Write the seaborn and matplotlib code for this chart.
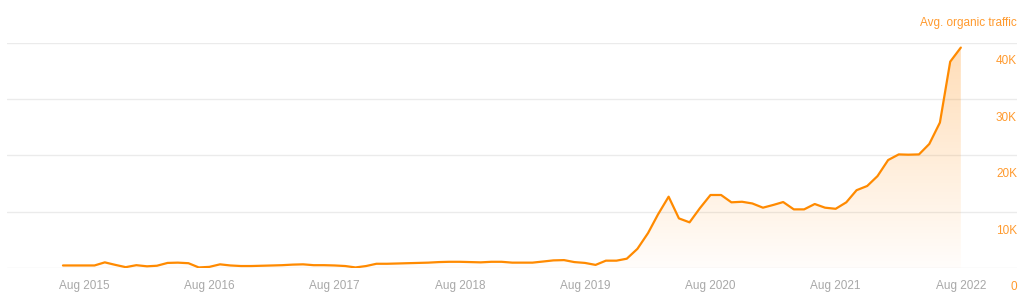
import numpy as np
import pandas as pd
import matplotlib
matplotlib.use("Agg")
import matplotlib.pyplot as plt
import matplotlib.dates as mdates
from matplotlib.transforms import ScaledTranslation
import seaborn as sns

# ---- data (monthly, Jun 2015 .. Aug 2022) ----
months = pd.date_range("2015-06-01", "2022-08-01", freq="MS")
traffic_k = [
    0.45, 0.45, 0.45, 0.45, 1.0, 0.55, 0.15, 0.5, 0.3, 0.4,
    0.9, 0.95, 0.85, 0.1, 0.2, 0.65, 0.45, 0.35, 0.35, 0.4,
    0.45, 0.5, 0.6, 0.65, 0.5, 0.5, 0.45, 0.35, 0.1, 0.35,
    0.75, 0.75, 0.8, 0.85, 0.9, 0.95, 1.05, 1.1, 1.1, 1.05,
    1.0, 1.1, 1.1, 0.95, 0.95, 0.95, 1.15, 1.35, 1.4, 1.05,
    0.9, 0.55, 1.3, 1.3, 1.65, 3.4, 6.2, 9.5, 12.65, 8.8,
    8.1, 10.6, 12.95, 12.95, 11.65, 11.75, 11.45, 10.7, 11.2, 11.7,
    10.4, 10.4, 11.35, 10.7, 10.5, 11.65, 13.8, 14.55, 16.3, 19.15,
    20.15, 20.1, 20.15, 22.0, 25.8, 36.6, 39.1,
]
traffic = [v * 1000 for v in traffic_k]
xtick_dates = ["2015-08-01", "2016-08-01", "2017-08-01", "2018-08-01",
               "2019-08-01", "2020-08-01", "2021-08-01", "2022-08-01"]
xtick_labels = ["Aug 2015", "Aug 2016", "Aug 2017", "Aug 2018",
                "Aug 2019", "Aug 2020", "Aug 2021", "Aug 2022"]
ytick_values = [0, 10000, 20000, 30000, 40000]
ytick_labels = ["0", "10K", "20K", "30K", "40K"]
series_title = "Avg. organic traffic"

df = pd.DataFrame({"month": months, "traffic": traffic})

LINE = "#ff8a00"
TEXT_OR = "#ff9a2e"
TEXT_GR = "#a8a8a8"
GRID = "#ebebeb"

sns.set_theme(style="white")
plt.rcParams["font.family"] = ["Liberation Sans", "DejaVu Sans"]

W, H = 1030, 303
fig = plt.figure(figsize=(W / 100, H / 100), dpi=100)
left, right = 7, 1017
top, bottom = 42.5, 268
ax = fig.add_axes([left / W, (H - bottom) / H, (right - left) / W, (bottom - top) / H])

sns.lineplot(data=df, x="month", y="traffic", ax=ax, color=LINE, linewidth=1.6, zorder=3)

# gradient fill under the line
xnum = mdates.date2num(df["month"])
poly = ax.fill_between(df["month"], df["traffic"], 0, facecolor="none", edgecolor="none")
grad = np.zeros((256, 1, 4))
grad[..., 0] = 1.0
grad[..., 1] = 0.55
grad[..., 2] = 0.05
grad[..., 3] = np.linspace(0.30, 0.02, 256)[:, None]
im = ax.imshow(grad, aspect="auto", origin="upper",
               extent=[xnum[0], xnum[-1], 0, 40000], zorder=2, interpolation="bilinear")
path = poly.get_paths()[0]
im.set_clip_path(path, transform=ax.transData)

# axes limits
x0 = mdates.date2num(pd.Timestamp("2015-06-01")) - 5.36 * 30.44
x1 = mdates.date2num(pd.Timestamp("2022-08-01")) + 5.38 * 30.44
ax.set_xlim(x0, x1)
ax.set_ylim(0, 40000)

for s in ax.spines.values():
    s.set_visible(False)

ax.set_yticks(ytick_values)
ax.yaxis.tick_right()
ax.set_yticklabels(ytick_labels)
ax.grid(axis="y", color=GRID, linewidth=1.0, zorder=0)
ax.grid(axis="x", visible=False)
ax.tick_params(axis="y", length=0, pad=0, labelsize=8.5, labelcolor=TEXT_OR)
for lab in ax.get_yticklabels():
    lab.set_horizontalalignment("right")
    lab.set_transform(lab.get_transform() + ScaledTranslation(0, -17.5 / 100, fig.dpi_scale_trans))

ax.set_xticks(mdates.date2num(pd.to_datetime(xtick_dates)))
ax.set_xticklabels(xtick_labels)
ax.tick_params(axis="x", length=0, pad=8.5, labelsize=8.5, labelcolor=TEXT_GR)

ax.set_xlabel("")
ax.set_ylabel("")

fig.text(right / W, (H - 23) / H, series_title, ha="right", va="center",
         fontsize=8.5, color=TEXT_OR)

fig.savefig("out.png", dpi=100)
